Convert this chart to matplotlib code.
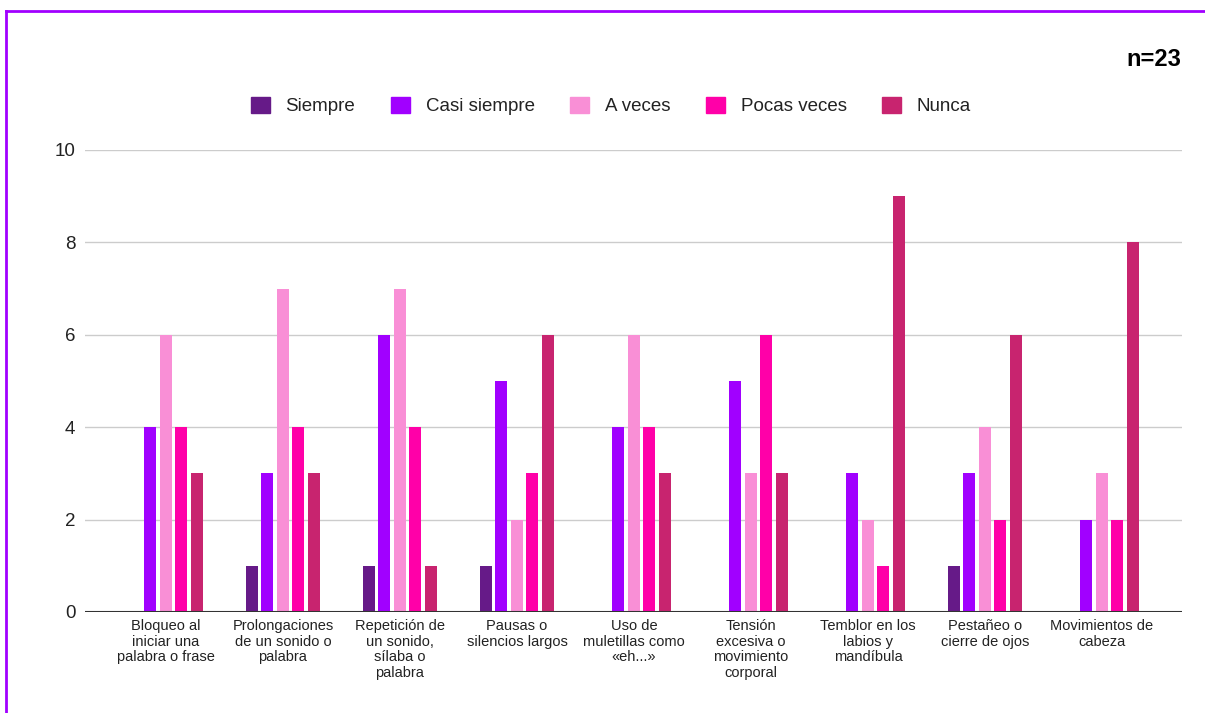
import numpy as np
import matplotlib.pyplot as plt
from matplotlib.lines import Line2D
from matplotlib.patches import Patch

plt.rcParams.update({
    "font.family": ["Liberation Sans", "DejaVu Sans"],
    "font.size": 13,
})

categories = [
    "Bloqueo al\niniciar una\npalabra o frase",
    "Prolongaciones\nde un sonido o\npalabra",
    "Repetición de\nun sonido,\nsílaba o\npalabra",
    "Pausas o\nsilencios largos",
    "Uso de\nmuletillas como\n«eh...»",
    "Tensión\nexcesiva o\nmovimiento\ncorporal",
    "Temblor en los\nlabios y\nmandíbula",
    "Pestañeo o\ncierre de ojos",
    "Movimientos de\ncabeza",
]

series_names = ["Siempre", "Casi siempre", "A veces", "Pocas veces", "Nunca"]
siempre = [0, 1, 1, 1, 0, 0, 0, 1, 0]
casi_siempre = [4, 3, 6, 5, 4, 5, 3, 3, 2]
a_veces = [6, 7, 7, 2, 6, 3, 2, 4, 3]
pocas_veces = [4, 4, 4, 3, 4, 6, 1, 2, 2]
nunca = [3, 3, 1, 6, 3, 3, 9, 6, 8]

colors = ["#661a88", "#a100ff", "#f98fd6", "#ff00a8", "#c8246f"]

fig = plt.figure(figsize=(12.05, 7.13), dpi=100)
ax = fig.add_axes([85 / 1205, 101 / 713, 1097 / 1205, 462 / 713])

x = np.arange(len(categories))
step = 0.1325
width = 0.103
all_series = [siempre, casi_siempre, a_veces, pocas_veces, nunca]
for i, (vals, col) in enumerate(zip(all_series, colors)):
    ax.bar(x + (i - 2) * step, vals, width=width, color=col, zorder=3)

ax.set_xlim(-0.692, 8.684)
ax.set_ylim(0, 10)
ax.set_yticks([0, 2, 4, 6, 8, 10])
ax.yaxis.grid(True, color="#cccccc", linewidth=1, zorder=0)
ax.axhline(0, color="#333333", linewidth=1.5, zorder=4)
for s in ax.spines.values():
    s.set_visible(False)
ax.tick_params(axis="y", length=0, pad=7, labelsize=13.5, labelcolor="#222222")
ax.tick_params(axis="x", length=0, pad=5)
ax.set_xticks(x)
ax.set_xticklabels(categories, fontsize=10.5, color="#222222", linespacing=1.15)

handles = [Patch(facecolor=c, edgecolor=c) for c in colors]
fig.legend(handles, series_names, loc="center", bbox_to_anchor=(611 / 1205, 1 - 106 / 713),
           ncol=5, frameon=False, fontsize=13.5, handlelength=1.0, handleheight=1.0,
           handletextpad=0.85, columnspacing=1.9, labelcolor="#222222")

fig.text(1181 / 1205, 1 - 59 / 713, "n=23", ha="right", va="center",
         fontsize=17, fontweight="bold")

# purple frame on the left and top edges
fig.add_artist(Line2D([6 / 1205, 6 / 1205], [0, 1 - 11 / 713], color="#a100ff",
                      linewidth=2, transform=fig.transFigure))
fig.add_artist(Line2D([6 / 1205, 1], [1 - 11 / 713, 1 - 11 / 713], color="#a100ff",
                      linewidth=2, transform=fig.transFigure))

fig.savefig("out.png", dpi=100)
